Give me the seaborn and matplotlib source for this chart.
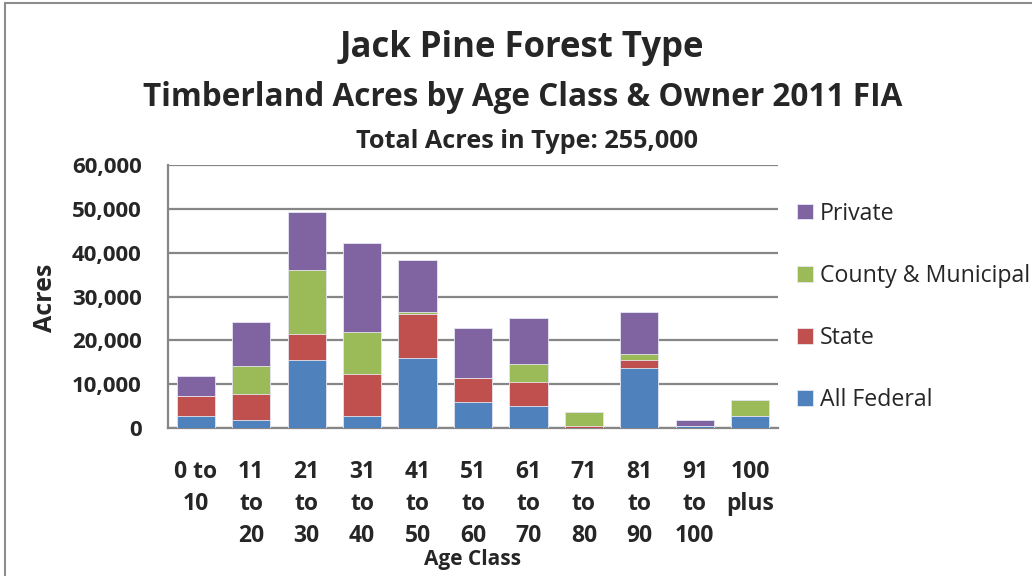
import numpy as np
import pandas as pd
import matplotlib
matplotlib.use("Agg")
import matplotlib.pyplot as plt
from matplotlib.patches import Rectangle
from matplotlib.ticker import FuncFormatter, FixedLocator
import seaborn as sns

# -------- data (acres) --------
age_classes = ["0 to\n10", "11\nto\n20", "21\nto\n30", "31\nto\n40", "41\nto\n50",
               "51\nto\n60", "61\nto\n70", "71\nto\n80", "81\nto\n90", "91\nto\n100",
               "100\nplus"]
federal = [2700, 1900, 15500, 2700, 15900, 5900, 5000, 100, 13700, 500, 2700]
state = [4600, 5900, 5900, 9600, 10100, 5500, 5500, 400, 1800, 0, 0]
county = [0, 6300, 14600, 9600, 400, 0, 4100, 3200, 1400, 0, 3700]
private = [4500, 10000, 13200, 20400, 11900, 11300, 10500, 0, 9500, 1300, 0]

owners = ["All Federal", "State", "County & Municipal", "Private"]
colors = {"All Federal": "#4F81BD", "State": "#C0504D",
          "County & Municipal": "#9BBB59", "Private": "#8064A2"}

# cumulative tops, drawn from the tallest down so each layer overlaps the one below
df = pd.DataFrame({"age": age_classes, "All Federal": federal, "State": state,
                   "County & Municipal": county, "Private": private})
cum = df[owners].cumsum(axis=1)
cum["age"] = age_classes

sns.set_style("white")
plt.rcParams["font.family"] = ["Open Sans", "DejaVu Sans"]

fig = plt.figure(figsize=(10.32, 5.76), dpi=100)
ax = fig.add_axes([168 / 1032, 1 - 428 / 576, 610 / 1032, 263 / 576])

for owner in reversed(owners):
    sns.barplot(data=cum, x="age", y=owner, color=colors[owner], width=0.69,
                edgecolor="#E6E6F0", linewidth=0.6, saturation=1, ax=ax,
                label=owner, zorder=3)

ax.set_ylim(0, 60000)
ax.set_xlim(-0.5, len(age_classes) - 0.5)
ax.set_yticks(np.arange(0, 60001, 10000))
ax.yaxis.set_major_formatter(FuncFormatter(lambda v, p: f"{int(v):,}"))
ax.grid(axis="y", color="#868686", linewidth=1.6, zorder=0)
ax.set_axisbelow(True)

for s in ["top", "right"]:
    ax.spines[s].set_visible(False)
for s in ["left", "bottom"]:
    ax.spines[s].set_color("#868686")
    ax.spines[s].set_linewidth(1.6)

ax.tick_params(axis="y", length=10, width=1.6, color="#868686", pad=9,
               labelsize=16)
ax.tick_params(axis="x", which="major", length=0, pad=23, labelsize=16.5)
ax.xaxis.set_minor_locator(FixedLocator(np.arange(-0.5, len(age_classes), 1)))
ax.tick_params(axis="x", which="minor", length=8, width=1.6, color="#868686")
for lbl in ax.get_yticklabels():
    lbl.set_fontweight("bold")
for lbl in ax.get_xticklabels():
    lbl.set_fontweight("bold")
    lbl.set_linespacing(1.45)
    lbl.set_verticalalignment("top")

ax.set_xlabel("")
ax.set_ylabel("")
fig.text(473 / 1032, 1 - 559 / 576, "Age Class", ha="center", va="center",
         fontsize=15, fontweight="bold")
fig.text(46 / 1032, 1 - 298 / 576, "Acres", ha="center", va="center",
         rotation=90, fontsize=18, fontweight="bold")

# legend, reversed order like the original
handles, labels = ax.get_legend_handles_labels()
leg = ax.legend(handles, labels, loc="center left", bbox_to_anchor=(1.031, 0.46),
                frameon=False, fontsize=16.7, labelspacing=1.65, borderpad=0,
                borderaxespad=0, handlelength=0.68, handleheight=0.68,
                handletextpad=0.32)

fig.text(522 / 1032, 1 - 48 / 576, "Jack Pine Forest Type", ha="center",
         va="center", fontsize=25, fontweight="bold")
fig.text(523 / 1032, 1 - 97 / 576, "Timberland Acres by Age Class & Owner 2011 FIA",
         ha="center", va="center", fontsize=22.7, fontweight="bold")
fig.text(527 / 1032, 1 - 141 / 576, "Total Acres in Type: 255,000", ha="center",
         va="center", fontsize=18.2, fontweight="bold")

# chart-area border (left and top edges visible in the crop)
fig.patches.append(Rectangle((5 / 1032, -0.1), 1.2, 1 - 3 / 576 + 0.1,
                             transform=fig.transFigure, fill=False,
                             edgecolor="#8C8C8C", linewidth=1.5))

fig.savefig("out.png", dpi=100)
